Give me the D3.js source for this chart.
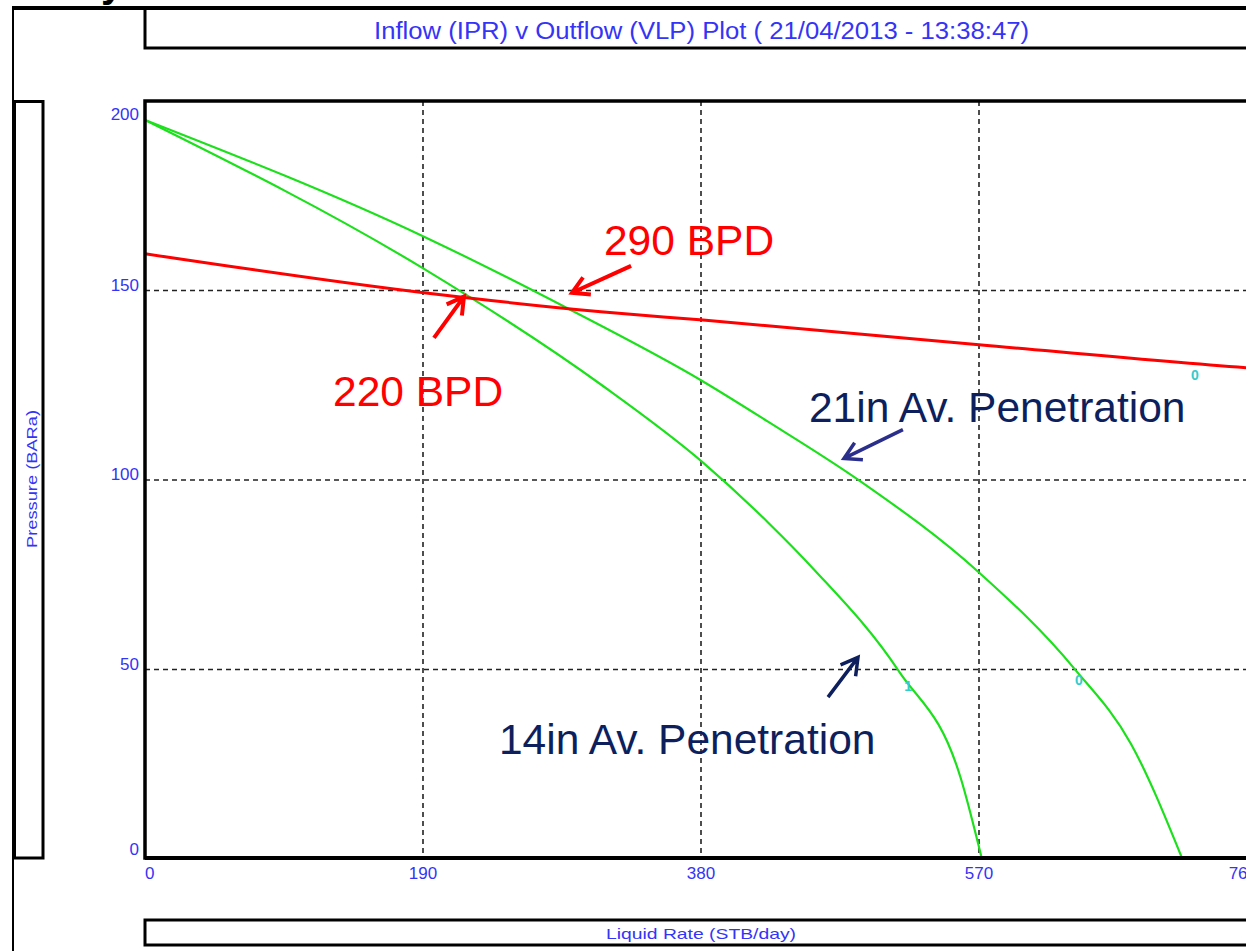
<!DOCTYPE html>
<html>
<head>
<meta charset="utf-8">
<script src="https://cdn.jsdelivr.net/npm/d3@7"></script>
<style>
  body { margin: 0; background: #fff; }
  text { font-family: "Liberation Sans", Arial, sans-serif; }
</style>
</head>
<body>
<script>
// liquid rate (STB/day) vs pressure (BARa)
const rateVLP = [0, 190.7, 311.6, 381.4, 570, 753, 760];
const presVLP = [159.7, 149.4, 144.4, 142.2, 135.7, 129.6, 129.4];

const rateIPR21 = [0, 190.7, 287.7, 381.4, 425.8, 487.3, 570, 635, 674, 709];
const presIPR21 = [195, 164.2, 145.5, 126.0, 115.4, 100.1, 75.6, 50.3, 30.3, 0];

const rateIPR14 = [0, 190.7, 311.6, 381.4, 425.8, 457.2, 515.3, 557.7, 572];
const presIPR14 = [195, 155.7, 125.2, 104.6, 88.8, 76.4, 49.5, 21.1, 0];

const xTicks = [0, 190, 380, 570, 760];
const yTicks = [0, 50, 100, 150, 200];

const curveLabels = ["0", "1", "0"];
const curveLabelRate = [717.6, 521.5, 638.3];
const curveLabelPres = [127.8, 45.6, 47.2];

const titleText = "Inflow (IPR) v Outflow (VLP) Plot ( 21/04/2013 - 13:38:47)";
const xTitle = "Liquid Rate  (STB/day)";
const yTitle = "Pressure  (BARa)";

// callouts: text start, arrow tail, arrow tip (in chart units)
const noteText = ["290 BPD", "220 BPD", "21in Av. Penetration", "14in Av. Penetration"];
const noteColor = ["#ff0000", "#ff0000", "#0e1f5e", "#0e1f5e"];
const arrowColor = ["#ff0000", "#ff0000", "#2b2f8c", "#0e1f5e"];
const noteRate = [313.7, 128.5, 453.8, 241.9];
const notePres = [159.4, 119.6, 115.4, 27.7];
const tailRate = [332.2, 197.5, 518.0, 466.8];
const tailPres = [156.5, 137.5, 113.3, 42.7];
const tipRate = [291.8, 218.0, 477.7, 487.3];
const tipPres = [149.4, 148.4, 105.7, 53.2];

const W = 1246, H = 951;
const blue = "#3434f6";

const svg = d3.select("body").append("svg")
  .attr("width", W).attr("height", H);

const x = d3.scaleLinear().domain([0, 760]).range([145, 1257]);
const y = d3.scaleLinear().domain([0, 200]).range([859, 101]);

// grid
svg.append("g").selectAll("line")
  .data(xTicks.filter(d => d > 0 && d < 760))
  .join("line")
    .attr("x1", d => x(d)).attr("x2", d => x(d))
    .attr("y1", y(200)).attr("y2", y(0))
    .attr("stroke", "#222").attr("stroke-width", 1.6)
    .attr("stroke-dasharray", "5,4");
svg.append("g").selectAll("line")
  .data(yTicks.filter(d => d > 0 && d < 200))
  .join("line")
    .attr("x1", x(0)).attr("x2", x(760))
    .attr("y1", d => y(d)).attr("y2", d => y(d))
    .attr("stroke", "#222").attr("stroke-width", 1.6)
    .attr("stroke-dasharray", "5,4");

// curves
const line = d3.line().x(d => x(d[0])).y(d => y(d[1])).curve(d3.curveMonotoneX);
svg.append("path")
  .attr("d", line(d3.zip(rateIPR21, presIPR21)))
  .attr("fill", "none").attr("stroke", "#1de01d").attr("stroke-width", 2.2);
svg.append("path")
  .attr("d", line(d3.zip(rateIPR14, presIPR14)))
  .attr("fill", "none").attr("stroke", "#1de01d").attr("stroke-width", 2.2);
svg.append("path")
  .attr("d", line(d3.zip(rateVLP, presVLP)))
  .attr("fill", "none").attr("stroke", "#ff0000").attr("stroke-width", 3);

svg.append("g").selectAll("text")
  .data(curveLabels)
  .join("text")
    .attr("x", (d, i) => x(curveLabelRate[i]))
    .attr("y", (d, i) => y(curveLabelPres[i]))
    .attr("text-anchor", "middle").attr("dominant-baseline", "central")
    .attr("font-size", 14).attr("font-weight", "bold").attr("fill", "#33cccc")
    .text(d => d);

// frames
const frame = svg.append("g").attr("fill", "none").attr("stroke", "#000");
frame.append("line").attr("x1", 12).attr("x2", W).attr("y1", 8).attr("y2", 8).attr("stroke-width", 4);
frame.append("line").attr("x1", 13).attr("x2", 13).attr("y1", 8).attr("y2", H).attr("stroke-width", 2);
frame.append("rect").attr("x", 145).attr("y", 8).attr("width", 1200).attr("height", 40).attr("stroke-width", 3);
frame.append("rect").attr("x", 14.5).attr("y", 101.5).attr("width", 28.5).attr("height", 756.5).attr("stroke-width", 3);
frame.append("rect").attr("x", 145).attr("y", 101).attr("width", 1200).attr("height", 757).attr("stroke-width", 3.5);
frame.append("line").attr("x1", 145).attr("x2", W).attr("y1", 858).attr("y2", 858).attr("stroke-width", 4);
frame.append("rect").attr("x", 145).attr("y", 920).attr("width", 1200).attr("height", 25).attr("stroke-width", 3);

// cut-off slide heading glyph
svg.append("text").attr("x", 101).attr("y", -3)
  .attr("font-size", 40).attr("font-weight", "bold").attr("fill", "#000").text("y");

// titles
svg.append("text").attr("x", 374).attr("y", 39)
  .attr("font-size", 23).attr("fill", blue)
  .attr("textLength", 655).attr("lengthAdjust", "spacingAndGlyphs")
  .text(titleText);
svg.append("text").attr("x", 606).attr("y", 939)
  .attr("font-size", 15).attr("fill", blue)
  .attr("textLength", 190).attr("lengthAdjust", "spacingAndGlyphs")
  .text(xTitle);
svg.append("text")
  .attr("transform", "translate(37,548) rotate(-90)")
  .attr("font-size", 15).attr("fill", blue)
  .attr("textLength", 138).attr("lengthAdjust", "spacingAndGlyphs")
  .text(yTitle);

// tick labels
svg.append("g").selectAll("text")
  .data(xTicks)
  .join("text")
    .attr("x", d => x(d))
    .attr("y", 879)
    .attr("text-anchor", (d, i) => i === 0 ? "start" : i === xTicks.length - 1 ? "end" : "middle")
    .attr("font-size", 17).attr("fill", blue)
    .text(d => d);
svg.append("g").selectAll("text")
  .data(yTicks)
  .join("text")
    .attr("x", 139)
    .attr("y", d => Math.min(855, Math.max(120, y(d))))
    .attr("text-anchor", "end")
    .attr("font-size", 17).attr("fill", blue)
    .text(d => d);

// callouts
const notes = svg.append("g");
noteText.forEach((t, i) => {
  notes.append("text")
    .attr("x", x(noteRate[i])).attr("y", y(notePres[i]))
    .attr("font-size", 42.5).attr("fill", noteColor[i])
    .text(t);
  const x1 = x(tailRate[i]), y1 = y(tailPres[i]);
  const x2 = x(tipRate[i]), y2 = y(tipPres[i]);
  const ang = Math.atan2(y2 - y1, x2 - x1), L = 19, a = 0.52;
  const p = d3.path();
  p.moveTo(x1, y1); p.lineTo(x2, y2);
  p.moveTo(x2 - L * Math.cos(ang - a), y2 - L * Math.sin(ang - a));
  p.lineTo(x2, y2);
  p.lineTo(x2 - L * Math.cos(ang + a), y2 - L * Math.sin(ang + a));
  notes.append("path")
    .attr("d", p.toString())
    .attr("fill", "none")
    .attr("stroke", arrowColor[i])
    .attr("stroke-width", i < 2 ? 4 : 3.5);
});
</script>
</body>
</html>
